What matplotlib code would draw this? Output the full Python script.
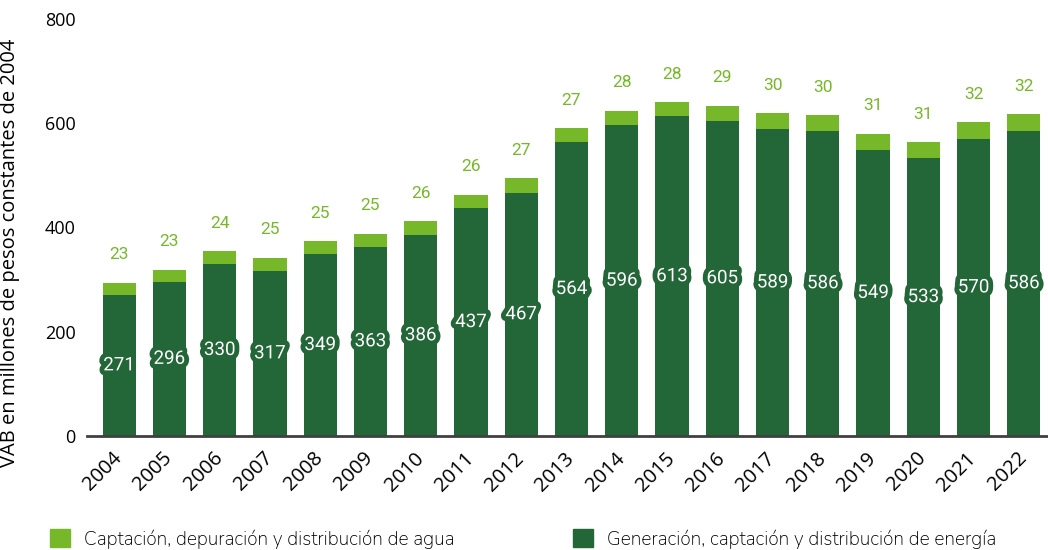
import numpy as np
import matplotlib
matplotlib.use("Agg")
import matplotlib.pyplot as plt
import matplotlib.patheffects as pe
import matplotlib.transforms as mtrans
from matplotlib.patches import Patch

# datos
anios = [str(a) for a in range(2004, 2023)]
energia = [271, 296, 330, 317, 349, 363, 386, 437, 467, 564, 596, 613, 605, 589, 586, 549, 533, 570, 586]
agua = [23, 23, 24, 25, 25, 25, 26, 26, 27, 27, 28, 28, 29, 30, 30, 31, 31, 32, 32]

verde_osc = '#236638'
verde_cla = '#76b82a'

plt.rcParams['font.family'] = ['Open Sans', 'DejaVu Sans']

fig = plt.figure(figsize=(10.48, 5.5), dpi=100)
ax = fig.add_axes([0.083, 0.2073, 0.916, 0.7582])

x = np.arange(len(anios))
ax.bar(x, energia, width=0.66, color=verde_osc, zorder=2)
ax.bar(x, agua, width=0.66, bottom=energia, color=verde_cla, zorder=2)

for i in range(len(anios)):
    ax.text(x[i], energia[i] / 2, str(energia[i]), ha='center', va='center',
            color='white', fontsize=13.5, family=['Roboto', 'DejaVu Sans'], zorder=3,
            path_effects=[pe.withStroke(linewidth=7, foreground=verde_osc)])
    ax.annotate(str(agua[i]), (x[i], energia[i] + agua[i]), xytext=(0, 20),
                textcoords='offset points', ha='center', va='center',
                color=verde_cla, fontsize=12.5, family=['Roboto', 'DejaVu Sans'])

ax.set_xlim(-0.64, len(anios) - 1 + 0.46)
ax.set_ylim(0, 800)
ax.set_yticks([0, 200, 400, 600, 800])
ax.set_xticks(x)
ax.set_xticklabels(anios, rotation=45, ha='right', va='center', rotation_mode='anchor', fontsize=14.5)
offset = mtrans.ScaledTranslation(8 / 100, 0, fig.dpi_scale_trans)
for lab in ax.get_xticklabels():
    lab.set_transform(lab.get_transform() + offset)
ax.tick_params(axis='both', length=0, colors='black')
ax.tick_params(axis='y', pad=8, labelsize=13)
ax.tick_params(axis='x', pad=14)

for s in ['top', 'right', 'left']:
    ax.spines[s].set_visible(False)
ax.spines['bottom'].set_color('#404040')
ax.spines['bottom'].set_linewidth(2)

ax.set_ylabel('VAB en millones de pesos constantes de 2004', fontsize=14.5)
ax.yaxis.set_label_coords(-0.07, 0.44)

h1 = [Patch(color=verde_cla, label='Captación, depuración y distribución de agua')]
h2 = [Patch(color=verde_osc, label='Generación, captación y distribución de energía')]
for h, xx in [(h1, 0.031), (h2, 0.530)]:
    fig.legend(handles=h, loc='center left', bbox_to_anchor=(xx, 0.02), frameon=False,
               handlelength=1.05, handleheight=1.05, handletextpad=0.75,
               prop={'family': ['Nunito', 'Lato', 'DejaVu Sans'], 'size': 13.8})

plt.savefig('out.png', dpi=100)
